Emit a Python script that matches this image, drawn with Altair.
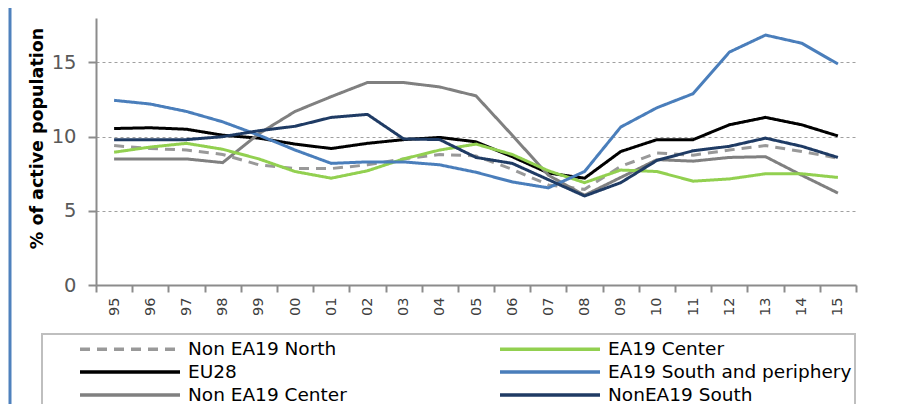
import altair as alt
import pandas as pd

years = ["95", "96", "97", "98", "99", "00", "01", "02", "03", "04", "05",
         "06", "07", "08", "09", "10", "11", "12", "13", "14", "15"]

# legend is filled column by column: first column, then second column
series_names = ["Non EA19 North", "EU28", "Non EA19 Center",
                "EA19 Center", "EA19 South and periphery", "NonEA19 South"]

non_ea19_north = [9.4, 9.2, 9.1, 8.8, 8.1, 7.85, 7.85, 8.1, 8.5, 8.8, 8.7,
                  7.8, 6.75, 6.45, 8.0, 8.9, 8.75, 9.1, 9.4, 9.0, 8.55]
eu28 = [10.55, 10.6, 10.5, 10.1, 9.9, 9.5, 9.2, 9.55, 9.8, 9.95, 9.65,
        8.65, 7.55, 7.2, 9.0, 9.8, 9.8, 10.8, 11.3, 10.8, 10.05]
non_ea19_center = [8.5, 8.5, 8.5, 8.25, 10.2, 11.7, 12.7, 13.65, 13.65, 13.35, 12.75,
                   10.1, 7.4, 6.05, 7.25, 8.45, 8.35, 8.6, 8.65, 7.4, 6.2]
ea19_center = [8.95, 9.3, 9.55, 9.15, 8.5, 7.65, 7.2, 7.7, 8.5, 9.1, 9.5,
               8.8, 7.7, 6.9, 7.75, 7.65, 7.0, 7.15, 7.5, 7.5, 7.25]
ea19_south = [12.45, 12.2, 11.7, 11.0, 10.1, 9.1, 8.2, 8.3, 8.3, 8.1, 7.6,
              6.95, 6.55, 7.65, 10.65, 11.95, 12.9, 15.7, 16.85, 16.3, 14.9]
non_ea19_south = [9.8, 9.8, 9.8, 10.0, 10.4, 10.7, 11.3, 11.5, 9.85, 9.8, 8.6,
                  8.2, 7.1, 6.0, 6.9, 8.4, 9.05, 9.35, 9.9, 9.35, 8.6]

values = [non_ea19_north, eu28, non_ea19_center, ea19_center, ea19_south, non_ea19_south]
colors = ["#999999", "#000000", "#808080", "#92D050", "#4A7EBB", "#1F3B64"]
dashes = [[10, 7], [1, 0], [1, 0], [1, 0], [1, 0], [1, 0]]

rows = []
for name, vals in zip(series_names, values):
    for i, (yr, v) in enumerate(zip(years, vals)):
        rows.append({"year": yr, "value": v, "series": name, "order": i})
df = pd.DataFrame(rows)

legend = alt.Legend(
    title=None, orient="none", legendX=-54, legendY=316,
    columns=2, symbolType="M2.3,0H12.3", symbolSize=400,
    symbolStrokeWidth=3.5, labelFont="DejaVu Sans", labelFontSize=18.5,
    labelColor="#000000", labelOffset=119, labelLimit=400,
    columnPadding=118, rowPadding=1,
    padding=3, strokeColor="#BFBFBF", fillColor="white",
)

lines = alt.Chart(df).mark_line(strokeWidth=3).encode(
    x=alt.X("year:O", sort=years, scale=alt.Scale(type="band", paddingInner=0, paddingOuter=0),
            axis=alt.Axis(title=None, labelAngle=-90, tickBand="extent", labelFontSize=14.5,
                          labelFont="DejaVu Sans", labelColor="#404040", tickSize=7,
                          tickColor="#8C8C8C", tickWidth=2, domainColor="#8C8C8C",
                          domainWidth=2, labelPadding=5, grid=False)),
    y=alt.Y("value:Q", scale=alt.Scale(domain=[0, 18], nice=False),
            axis=alt.Axis(title="% of active population", values=[0, 5, 10, 15],
                          labelFontSize=19.5, labelFont="DejaVu Sans", labelColor="#595959",
                          tickSize=8, tickColor="#8C8C8C", tickWidth=2,
                          domainColor="#8C8C8C", domainWidth=2, labelPadding=12,
                          grid=True, gridColor="#A0A0A0", gridDash=[3, 3], gridWidth=1,
                          titleFont="DejaVu Sans", titleFontSize=17.5, titleFontWeight="bold",
                          titleColor="#000000", titleX=-50, titleY=120)),
    color=alt.Color("series:N", sort=series_names,
                    scale=alt.Scale(domain=series_names, range=colors), legend=legend),
    strokeDash=alt.StrokeDash("series:N", sort=series_names,
                              scale=alt.Scale(domain=series_names, range=dashes), legend=legend),
    order="order:Q",
)

border = alt.Chart(alt.Data(values=[{}])).mark_rule(color="#4F81BD", strokeWidth=3).encode(
    x=alt.value(-86), y=alt.value(-11), y2=alt.value(394)
)

chart = alt.layer(border, lines).properties(
    width=760, height=267,
    autosize=alt.AutoSizeParams(type="none"),
    padding={"left": 88, "top": 10, "right": 34, "bottom": 119},
).configure_view(stroke=None).configure_legend(strokeWidth=2)

chart.save("out.html", embed_options={"renderer": "svg", "actions": False})
